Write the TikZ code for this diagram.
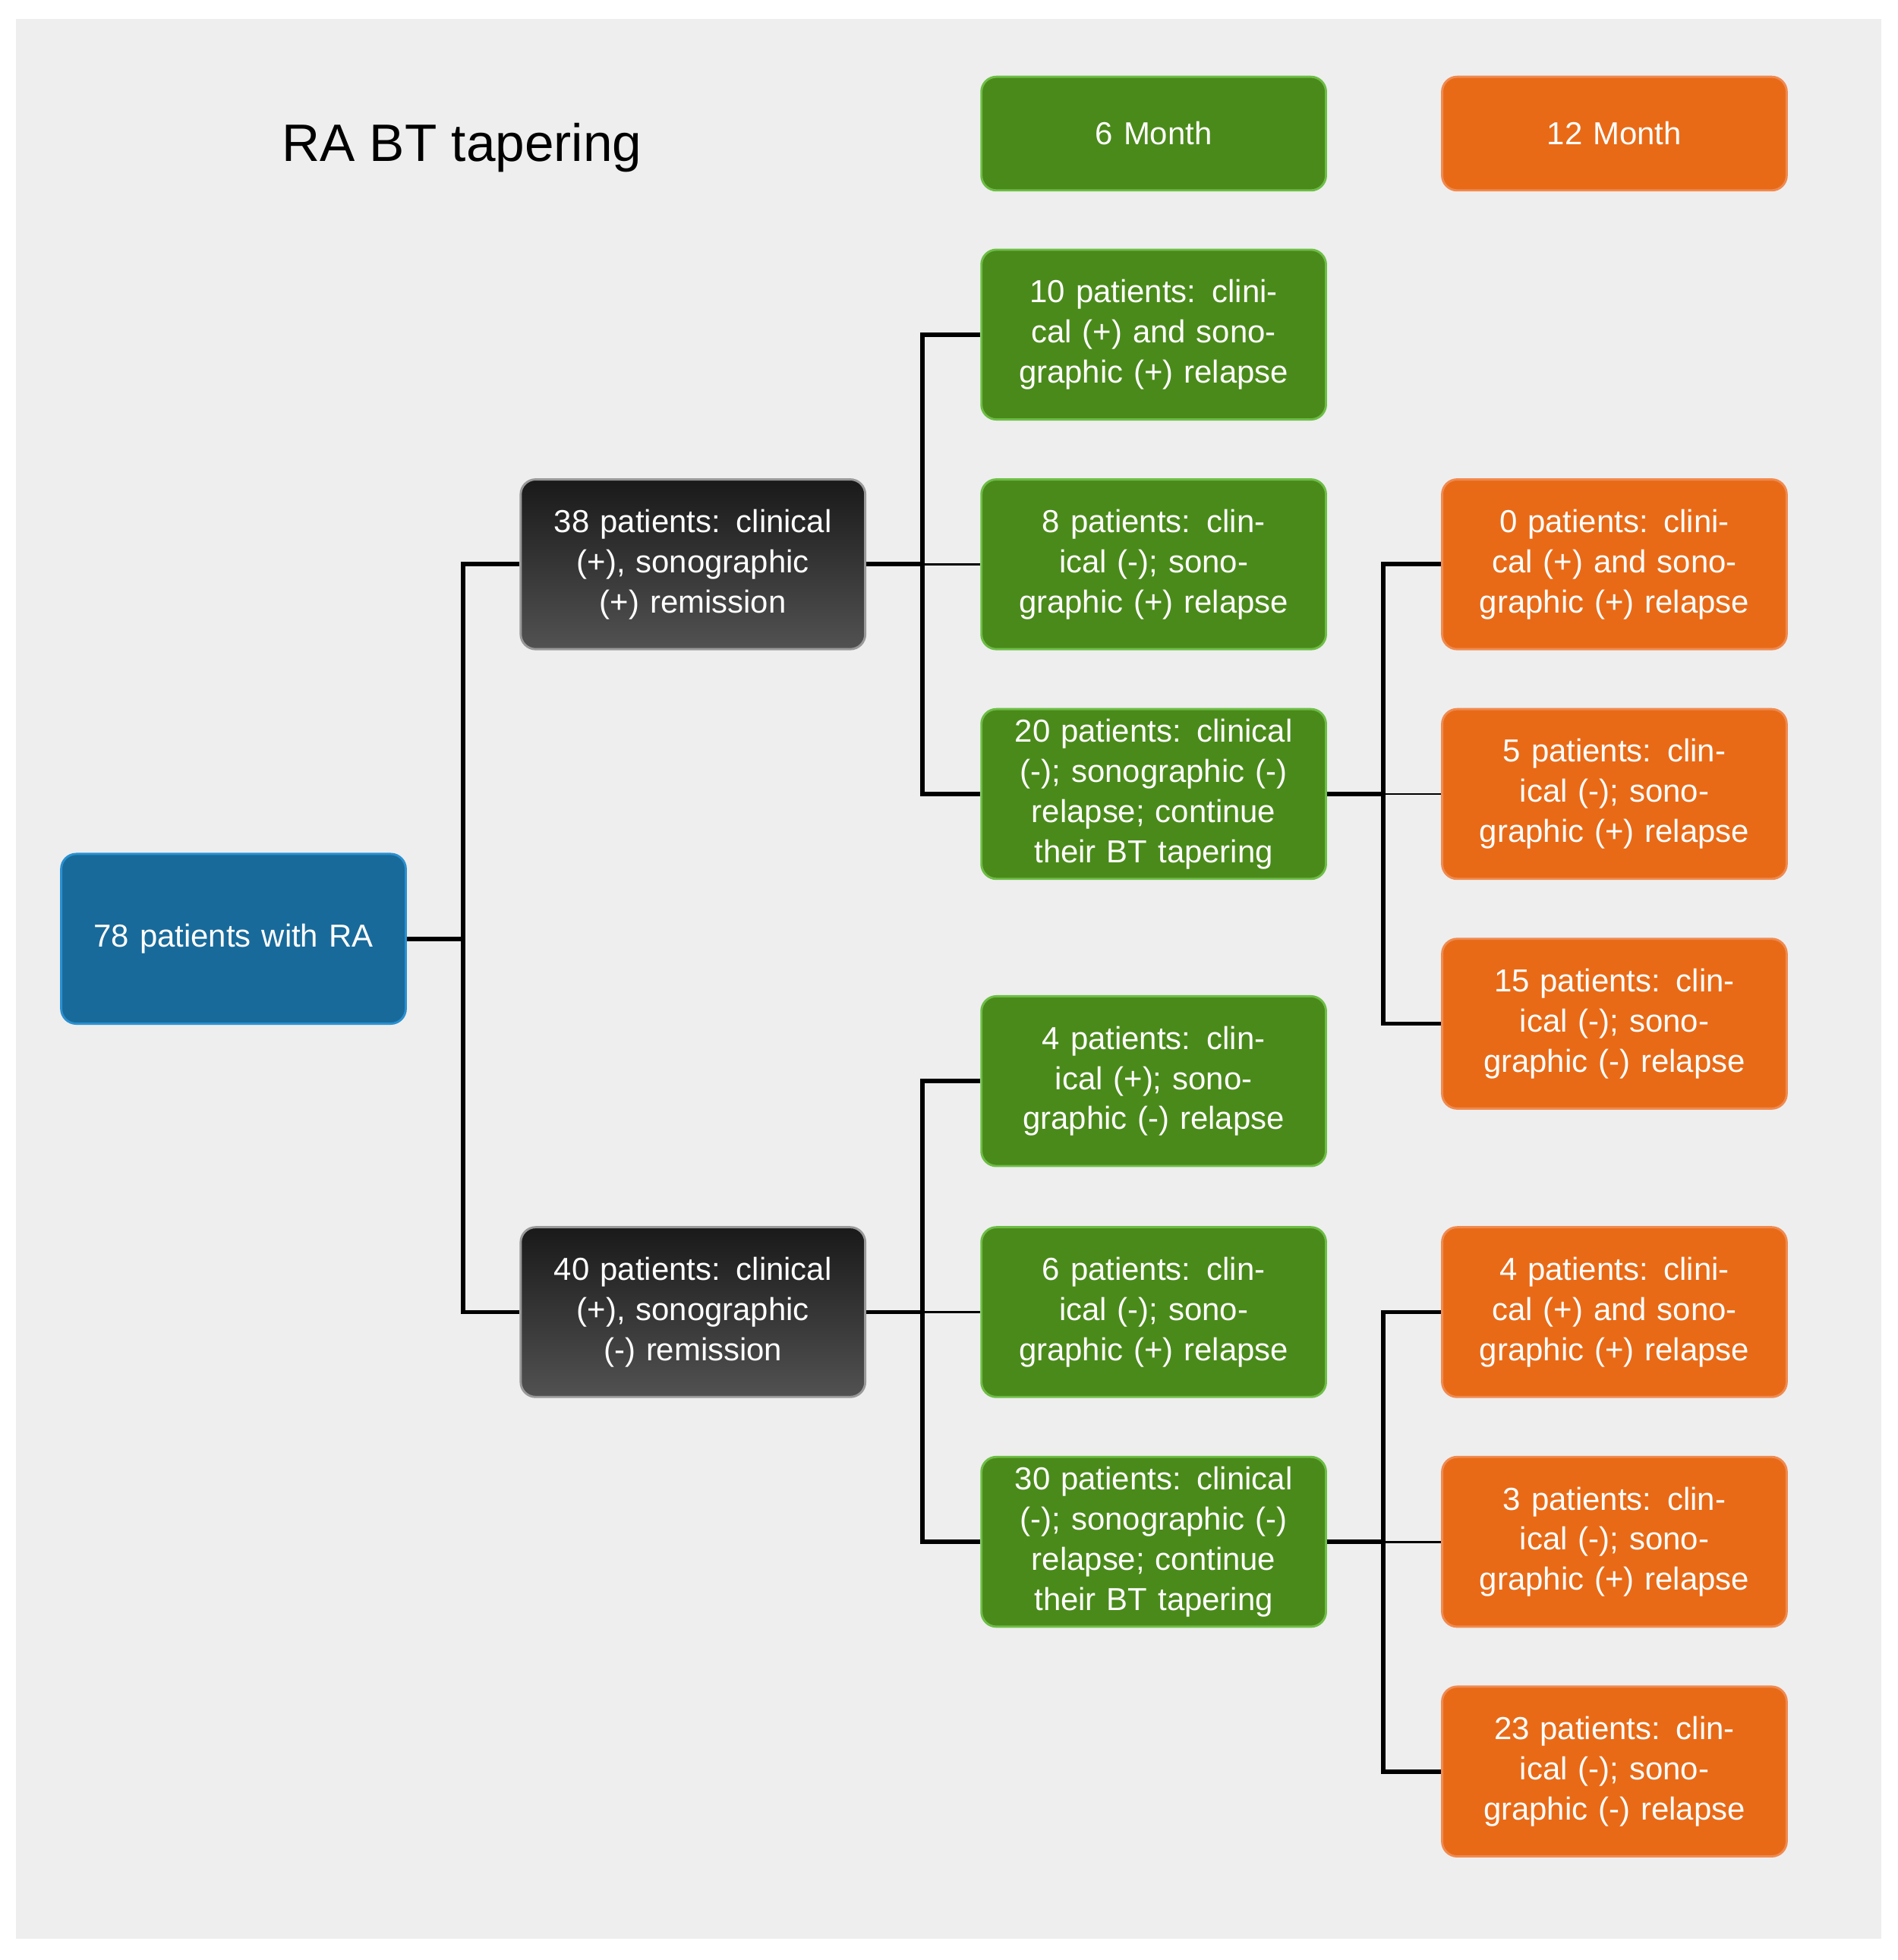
\documentclass[tikz,border=0pt]{standalone}
\usepackage{fontspec}
\setmainfont{Liberation Sans}
\definecolor{bg}{HTML}{EEEEEE}
\definecolor{gr}{HTML}{4A8A1A}
\definecolor{grb}{HTML}{6DBE45}
\definecolor{orr}{HTML}{E86A17}
\definecolor{orb}{HTML}{F08A50}
\definecolor{bl}{HTML}{186A9A}
\definecolor{blb}{HTML}{2A90D0}
\begin{document}
\begin{tikzpicture}[x=0.02cm,y=-0.02cm,
  box/.style={rounded corners=0.24cm,minimum width=5.52cm,minimum height=2.72cm,text width=5.2cm,align=center,text=white,font=\fontsize{14.5}{18.3}\selectfont,line width=1pt},
  g/.style={box,fill=gr,draw=grb},
  o/.style={box,fill=orr,draw=orb},
  d/.style={box,top color=black!90,bottom color=black!68,draw=black!40},
  h/.style={box,minimum height=1.82cm},
  ln/.style={line width=2pt}]
\useasboundingbox (0,0) rectangle (1520,1570);
\fill[bg] (13,15) rectangle (1507,1553);
\node[font=\fontsize{24}{28}\selectfont] (title) at (370,118) {RA BT tapering};
\node[h,fill=gr,draw=grb] (m6) at (924,107) {6 Month};
\node[h,fill=orr,draw=orb] (m12) at (1293,107) {12 Month};
\node[box,fill=bl,draw=blb] (ra) at (187,752) {78 patients with RA};
\node[d] (d1) at (555,452) {38 patients: clinical (+), sonographic (+) remission};
\node[d] (d2) at (555,1051) {40 patients: clinical (+), sonographic (-) remission};
\node[g] (g1) at (924,268) {10 patients: clinical (+) and sonographic (+) relapse};
\node[g] (g2) at (924,452) {8 patients: clinical (-); sonographic (+) relapse};
\node[g] (g3) at (924,636) {20 patients: clinical (-); sonographic (-) relapse; continue their BT tapering};
\node[g] (g4) at (924,866) {4 patients: clinical (+); sonographic (-) relapse};
\node[g] (g5) at (924,1051) {6 patients: clinical (-); sonographic (+) relapse};
\node[g] (g6) at (924,1235) {30 patients: clinical (-); sonographic (-) relapse; continue their BT tapering};
\node[o] (o1) at (1293,452) {0 patients: clinical (+) and sonographic (+) relapse};
\node[o] (o2) at (1293,636) {5 patients: clinical (-); sonographic (+) relapse};
\node[o] (o3) at (1293,820) {15 patients: clinical (-); sonographic (-) relapse};
\node[o] (o4) at (1293,1051) {4 patients: clinical (+) and sonographic (+) relapse};
\node[o] (o5) at (1293,1235) {3 patients: clinical (-); sonographic (+) relapse};
\node[o] (o6) at (1293,1419) {23 patients: clinical (-); sonographic (-) relapse};
\draw[ln] (ra.east) -- ++(45,0) coordinate (j0) |- (d1.west);
\draw[ln] (j0) |- (d2.west);
\foreach \s/\a/\b/\c in {d1/g1/g2/g3,d2/g4/g5/g6,g3/o1/o2/o3,g6/o4/o5/o6}{
  \draw[ln] (\s.east) -- ++(45,0) coordinate (j) |- (\a.west);
  \draw[ln] (j) |- (\c.west);
  \draw[line width=1pt] (j) -- (\b.west);
}
\end{tikzpicture}
\end{document}
